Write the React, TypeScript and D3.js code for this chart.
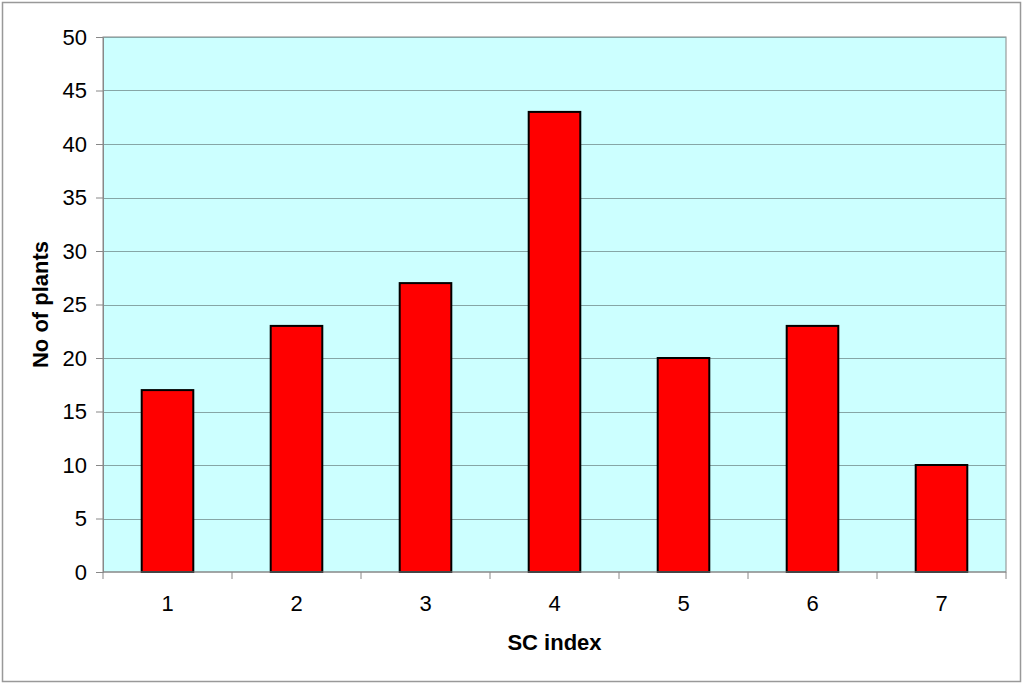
import React, { useEffect, useRef } from 'react'
import * as d3 from 'd3'

const categories = ['1', '2', '3', '4', '5', '6', '7']
const plantCounts = [17, 23, 27, 43, 20, 23, 10]
const yTicks = [0, 5, 10, 15, 20, 25, 30, 35, 40, 45, 50]

const App = () => {
  const ref = useRef<SVGSVGElement>(null)

  useEffect(() => {
    const root = d3.select(ref.current)
    root.selectAll('*').remove()

    const chartWidth = 1024
    const chartHeight = 684
    const margin = { top: 37, right: 18, bottom: 112, left: 103 }
    const width = chartWidth - margin.left - margin.right
    const height = chartHeight - margin.top - margin.bottom
    const font = 'Liberation Sans, Arial, sans-serif'

    // outer frame
    root
      .append('rect')
      .attr('x', 2.5)
      .attr('y', 2.5)
      .attr('width', chartWidth - 6)
      .attr('height', chartHeight - 5)
      .attr('fill', '#fff')
      .attr('stroke', '#999')
      .attr('stroke-width', 1.5)

    const svg = root.append('g').attr('transform', `translate(${margin.left}, ${margin.top})`)

    const x = d3.scaleBand().domain(categories).range([0, width]).paddingInner(0.6).paddingOuter(0.3)
    const xOuter = d3.scaleBand().domain(categories).range([0, width])
    const y = d3.scaleLinear().domain([0, 50]).range([height, 0])

    svg // plot area
      .append('rect')
      .attr('width', width)
      .attr('height', height)
      .attr('fill', '#ccffff')
      .attr('stroke', '#888')
      .attr('stroke-width', 1)

    svg // grid
      .append('g')
      .selectAll('line')
      .data(yTicks.filter(d => d > 0))
      .enter()
      .append('line')
      .attr('x1', 0)
      .attr('x2', width)
      .attr('y1', d => Math.round(y(d)) + 0.5)
      .attr('y2', d => Math.round(y(d)) + 0.5)
      .attr('stroke', '#86a6a6')
      .attr('stroke-width', 1)

    svg // bars
      .append('g')
      .selectAll('rect')
      .data(plantCounts)
      .enter()
      .append('rect')
      .attr('x', (d, i) => x(categories[i])!)
      .attr('y', d => y(d))
      .attr('width', x.bandwidth())
      .attr('height', d => height - y(d))
      .attr('fill', '#ff0000')
      .attr('stroke', '#000')
      .attr('stroke-width', 2)

    // y axis
    const yAxis = svg
      .append('g')
      .call(d3.axisLeft(y).tickValues(yTicks).tickSize(7).tickPadding(9))
    yAxis.attr('font-size', null)
    yAxis.select('.domain').attr('stroke', '#888')
    yAxis.selectAll('line').attr('stroke', '#888')
    yAxis
      .selectAll('text')
      .style('font-size', '22px')
      .style('font-family', font)
      .attr('fill', '#000')

    // x axis
    const xAxisG = svg.append('g').attr('transform', `translate(0, ${height})`)
    xAxisG
      .append('line')
      .attr('x1', 0)
      .attr('x2', width)
      .attr('y1', 0)
      .attr('y2', 0)
      .attr('stroke', '#888')
    xAxisG
      .selectAll('line.tick')
      .data(categories.concat(['end']))
      .enter()
      .append('line')
      .attr('class', 'tick')
      .attr('x1', (d, i) => i * xOuter.step())
      .attr('x2', (d, i) => i * xOuter.step())
      .attr('y1', 0)
      .attr('y2', 7)
      .attr('stroke', '#888')
    xAxisG
      .selectAll('text')
      .data(categories)
      .enter()
      .append('text')
      .text(d => d)
      .attr('x', d => xOuter(d)! + xOuter.bandwidth() / 2)
      .attr('y', 39)
      .attr('text-anchor', 'middle')
      .style('font-size', '22px')
      .style('font-family', font)

    svg // xlab
      .append('text')
      .text('SC index')
      .attr('text-anchor', 'middle')
      .style('font-size', '22px')
      .attr('font-weight', 'bold')
      .style('font-family', font)
      .attr('x', width / 2)
      .attr('y', height + 78)

    svg // ylab
      .append('text')
      .text('No of plants')
      .attr('transform', 'rotate(-90)')
      .attr('text-anchor', 'middle')
      .style('font-size', '22px')
      .attr('font-weight', 'bold')
      .style('font-family', font)
      .attr('x', -height / 2)
      .attr('y', -55)
  }, [])

  return <svg width={1024} height={684} ref={ref} style={{ position: 'absolute', left: 0, top: 0 }} />
}

export default App
